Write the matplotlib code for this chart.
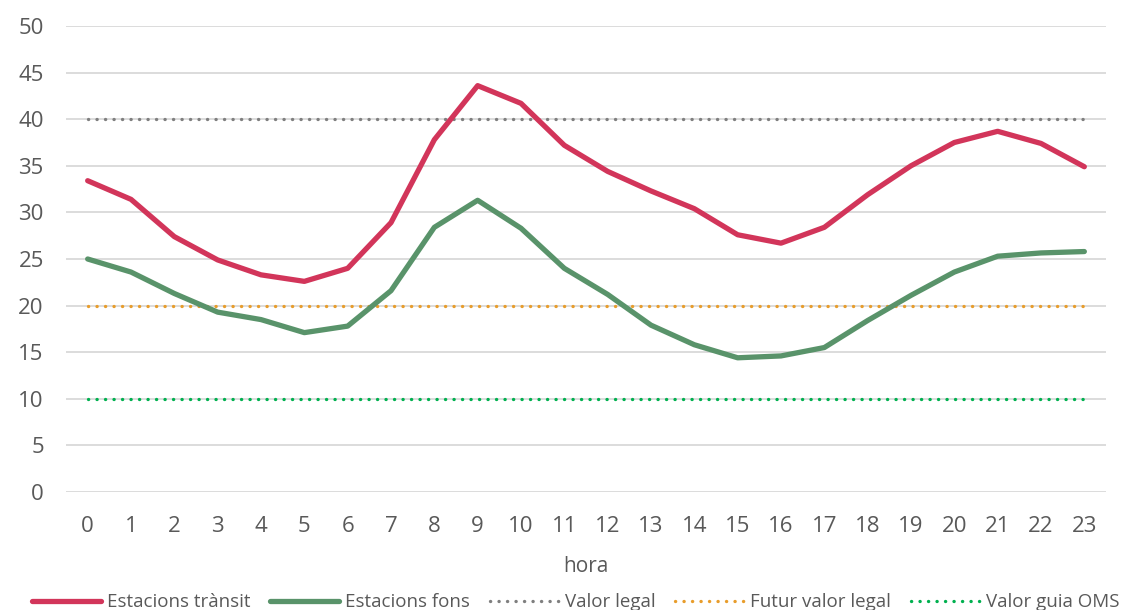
import matplotlib
matplotlib.use("Agg")
import matplotlib.pyplot as plt

plt.rcParams['font.family'] = ['Open Sans', 'DejaVu Sans']

hours = list(range(24))
transit = [33.4, 31.4, 27.4, 24.9, 23.3, 22.6, 24.0, 28.9, 37.8, 43.6, 41.7, 37.2,
           34.4, 32.3, 30.4, 27.6, 26.7, 28.4, 31.9, 35.0, 37.5, 38.7, 37.4, 34.9]
fons = [25.0, 23.6, 21.3, 19.3, 18.5, 17.1, 17.8, 21.6, 28.4, 31.3, 28.3, 24.0,
        21.2, 17.9, 15.8, 14.4, 14.6, 15.5, 18.4, 21.1, 23.6, 25.3, 25.65, 25.8]
valor_legal = 40
futur_valor_legal = 20
valor_guia_oms = 10
y_ticks = list(range(0, 55, 5))

fig = plt.figure(figsize=(11.24, 6.10), dpi=100)
ax = fig.add_axes([66/1124, 1 - 492/610, (1106-66)/1124, (492-26)/610])

lw_dot = 2.4
dot = (0, (0.05, 6.0 / lw_dot))
ax.plot(hours, transit, color='#d2355a', lw=3.8, solid_capstyle='round',
        solid_joinstyle='round', label='Estacions trànsit', zorder=5)
ax.plot(hours, fons, color='#59936a', lw=3.8, solid_capstyle='round',
        solid_joinstyle='round', label='Estacions fons', zorder=4)
ax.plot(hours, [valor_legal]*len(hours), color='#7f7f7f', lw=lw_dot, ls=dot,
        dash_capstyle='round', label='Valor legal', zorder=3)
ax.plot(hours, [futur_valor_legal]*len(hours), color='#e89d2c', lw=lw_dot, ls=dot,
        dash_capstyle='round', label='Futur valor legal', zorder=3)
ax.plot(hours, [valor_guia_oms]*len(hours), color='#00b04f', lw=lw_dot, ls=dot,
        dash_capstyle='round', label='Valor guia OMS', zorder=3)

ax.set_xlim(-0.5, 23.5)
ax.set_ylim(0, 50)
ax.set_yticks(y_ticks)
ax.set_xticks(hours)
ax.yaxis.grid(True, color='#d9d9d9', lw=1.3)
ax.set_axisbelow(True)
for s in ax.spines.values():
    s.set_visible(False)
ax.tick_params(axis='both', length=0, labelsize=16, colors='#595959')
ax.tick_params(axis='y', pad=16)
ax.tick_params(axis='x', pad=17)
ax.set_xlabel('hora', fontsize=15, color='#595959', labelpad=14)

leg = fig.legend(loc='lower center', bbox_to_anchor=(0.512, -0.03), ncol=5,
                 frameon=False, fontsize=13.5, handlelength=3.7, handletextpad=0.3,
                 columnspacing=1.05, labelcolor='#595959')

fig.savefig('out.png', dpi=100)
